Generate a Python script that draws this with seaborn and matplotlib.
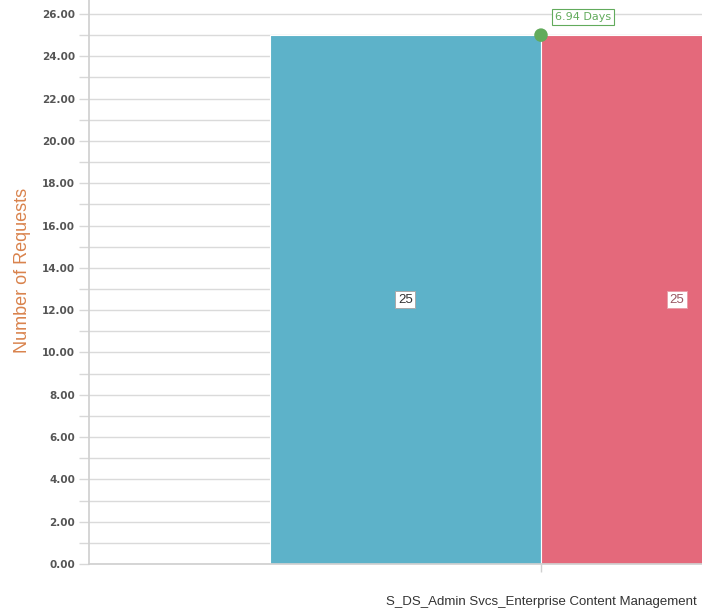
import matplotlib
matplotlib.use("Agg")
import matplotlib.pyplot as plt
from matplotlib.ticker import MultipleLocator, FormatStrFormatter
import seaborn as sns
import pandas as pd

# Data
categories = ["S_DS_Admin Svcs_Enterprise Content Management"]
series_names = ["Opened", "Closed"]
series_values = [25, 25]
avg_days = 6.94
bar_colors = ["#5db2c9", "#e4697b"]

df = pd.DataFrame({
    "group": categories * len(series_names),
    "series": series_names,
    "requests": series_values,
})

sns.set_theme(style="white")
plt.rcParams["font.family"] = ["DejaVu Sans"]

fig = plt.figure(figsize=(7.02, 6.13), dpi=100)
ax = fig.add_axes([89 / 702, 1 - 564 / 613, 1 - 89 / 702, 564 / 613])

sns.barplot(data=df, x="group", y="requests", hue="series",
            palette=bar_colors, width=0.8, ax=ax, legend=False,
            edgecolor="white", linewidth=0.8, saturation=1, zorder=2)

ax.set_xlim(-0.667, 0.2376)
ax.set_ylim(0, 26.66)

ax.yaxis.set_major_locator(MultipleLocator(2))
ax.yaxis.set_minor_locator(MultipleLocator(1))
ax.yaxis.set_major_formatter(FormatStrFormatter("%.2f"))
ax.grid(which="both", axis="y", color="#dadada", linewidth=1.0, zorder=0)
ax.set_axisbelow(True)

ax.tick_params(axis="y", which="both", left=True, length=7, width=1,
               color="#d8d8d8", labelsize=7.5, labelcolor="#555555", pad=3)
ax.tick_params(axis="x", which="major", bottom=True, length=6, width=1,
               color="#d0d0d0", labelsize=9.5, labelcolor="#333333", pad=17)
for lbl in ax.get_yticklabels():
    lbl.set_fontweight("bold")
for lbl in ax.get_xticklabels():
    lbl.set_fontfamily("Liberation Sans")

for side in ["top", "right"]:
    ax.spines[side].set_visible(False)
ax.spines["left"].set_color("#d0d0d0")
ax.spines["bottom"].set_color("#d0d0d0")

ax.set_xlabel("")
ax.set_ylabel("Number of Requests", color="#d9834d", fontsize=13,
              family="Liberation Sans")
ax.yaxis.label.set_va("center")
ax.yaxis.set_label_coords((22 - 89) / 613, (564 - 270) / 564)

# Value labels in the middle of each bar
label_colors = ["#333333", "#9a5a64"]
edge_colors = ["#aaaaaa", "#e8a0aa"]
for cont, tc, ec in zip(ax.containers, label_colors, edge_colors):
    for bar in cont:
        h = bar.get_height()
        ax.text(bar.get_x() + bar.get_width() / 2, h / 2, f"{h:.0f}",
                ha="center", va="center", fontsize=9.5, color=tc, zorder=5,
                family="Liberation Sans",
                bbox=dict(boxstyle="square,pad=0.2", fc="white",
                          ec=ec, lw=0.7))

# Average resolution time marker
sns.scatterplot(x=[0], y=[series_values[0]], ax=ax, color="#62ab5c", s=95,
                zorder=6, edgecolor="none", clip_on=False)
ax.annotate(f"{avg_days:.2f} Days", xy=(0, series_values[0]),
            xytext=(10, 13), textcoords="offset points",
            fontsize=8, color="#62ab5c", ha="left", va="center",
            bbox=dict(boxstyle="square,pad=0.25", fc="white", ec="#62ab5c", lw=0.8),
            zorder=7)

fig.savefig("out.png", dpi=100)
